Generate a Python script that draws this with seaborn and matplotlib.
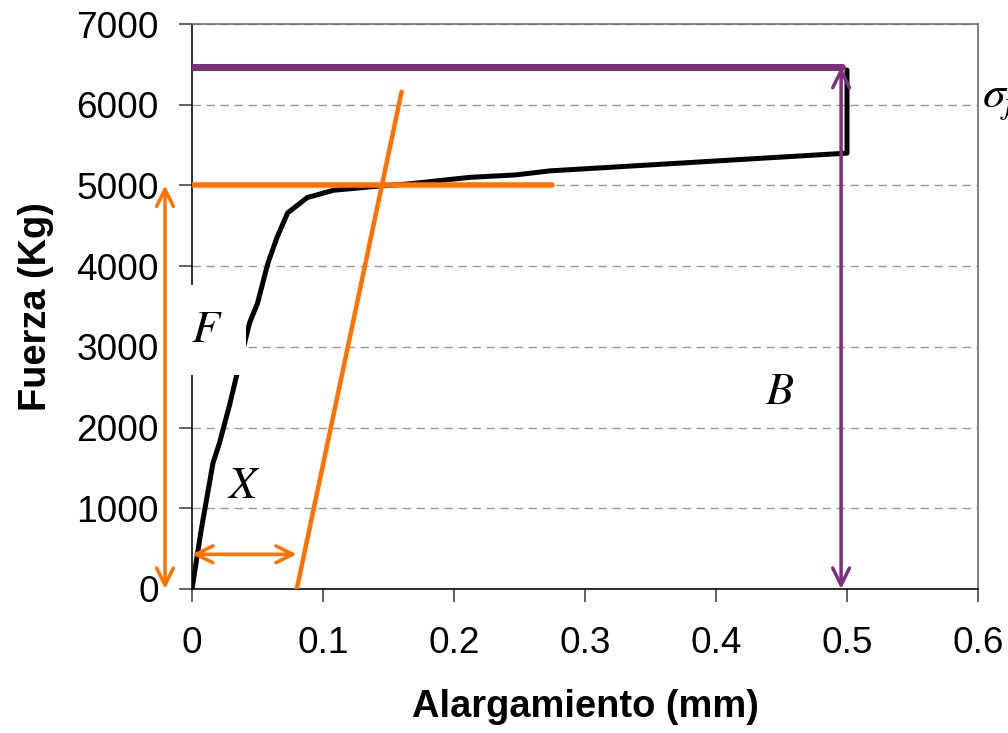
import matplotlib
matplotlib.use('Agg')
import matplotlib.pyplot as plt
import seaborn as sns

# Curva fuerza - alargamiento (ensayo de traccion)
alargamiento = [0.000, 0.007, 0.016, 0.021, 0.029, 0.035, 0.044, 0.050, 0.058,
                0.065, 0.073, 0.088, 0.108, 0.141, 0.166, 0.212, 0.247, 0.273,
                0.500, 0.500]
fuerza = [0, 730, 1560, 1810, 2300, 2710, 3300, 3540, 4040,
          4360, 4660, 4850, 4940, 4990, 5020, 5100, 5130, 5180,
          5400, 6430]

# Recta paralela a la zona elastica (offset)
offset_x = [0.080, 0.160]
offset_y = [0, 6160]

# Limite de fluencia
fluencia = 5000
fluencia_x = [0, 0.275]

# Carga maxima
carga_max = 6470
carga_max_x = [0, 0.496]

# Cotas
x_cota_f = -0.0206
y_cota_x = 430
x_cota_b = 0.4955

x_ticks = [0, 0.1, 0.2, 0.3, 0.4, 0.5, 0.6]
x_ticklabels = ['0', '0.1', '0.2', '0.3', '0.4', '0.5', '0.6']
y_ticks = [0, 1000, 2000, 3000, 4000, 5000, 6000, 7000]

naranja = '#ff7200'
morado = '#7b2f7d'

sns.set_style('ticks')
plt.rcParams['font.family'] = ['Liberation Sans', 'DejaVu Sans']
plt.rcParams['mathtext.fontset'] = 'stix'
plt.rcParams['text.color'] = 'black'
plt.rcParams['axes.labelcolor'] = 'black'

fig = plt.figure(figsize=(1008 / 72, 733 / 72), dpi=72)
ax = fig.add_axes([192 / 1008, 1 - 589 / 733, (978 - 192) / 1008, (589 - 24) / 733])

sns.lineplot(x=alargamiento, y=fuerza, sort=False, estimator=None,
             color='black', lw=5, ax=ax, zorder=3)
sns.lineplot(x=offset_x, y=offset_y, sort=False, estimator=None,
             color=naranja, lw=4.5, ax=ax, zorder=4)
sns.lineplot(x=fluencia_x, y=[fluencia, fluencia], sort=False, estimator=None,
             color=naranja, lw=5.5, ax=ax, zorder=4)
sns.lineplot(x=carga_max_x, y=[carga_max, carga_max], sort=False, estimator=None,
             color=morado, lw=7, ax=ax, zorder=4)

flecha = '<->,head_length=0.85,head_width=0.42'
ax.annotate('', xy=(x_cota_f, 0), xytext=(x_cota_f, fluencia),
            arrowprops=dict(arrowstyle=flecha, color=naranja, lw=3.5,
                            shrinkA=0, shrinkB=0, mutation_scale=20),
            annotation_clip=False, zorder=6)
ax.annotate('', xy=(0, y_cota_x), xytext=(offset_x[0], y_cota_x),
            arrowprops=dict(arrowstyle=flecha, color=naranja, lw=3.5,
                            shrinkA=0, shrinkB=0, mutation_scale=20),
            zorder=6)
ax.annotate('', xy=(x_cota_b, 0), xytext=(x_cota_b, carga_max),
            arrowprops=dict(arrowstyle=flecha, color=morado, lw=3.5,
                            shrinkA=0, shrinkB=0, mutation_scale=20),
            zorder=6)

ax.text(0.0115, 3209, '$F$', fontsize=46, ha='center', va='center', zorder=5,
        clip_on=False, color='black',
        bbox=dict(boxstyle='square,pad=0.5', fc='white', ec='none'))
ax.text(0.0397, 1276, '$X$', fontsize=46, ha='center', va='center',
        color='black', zorder=5)
ax.text(0.4489, 2441, '$B$', fontsize=46, ha='center', va='center',
        color='black', zorder=5)
ax.text(0.603, 5960, r'$\sigma_f$', fontsize=46, ha='left', va='baseline',
        clip_on=False, color='black', zorder=5)

ax.set_xlim(0, 0.6)
ax.set_ylim(0, 7000)
ax.set_xticks(x_ticks)
ax.set_xticklabels(x_ticklabels)
ax.set_yticks(y_ticks)
ax.tick_params(axis='both', direction='out', length=13, width=1.5,
               color='#333333', labelsize=37, labelcolor='black')
ax.tick_params(axis='x', pad=24)
ax.tick_params(axis='y', pad=20)

ax.yaxis.grid(True, linestyle=(0, (6, 4)), color='#999999', lw=1.4)
ax.set_axisbelow(True)
for lado in ['left', 'bottom']:
    ax.spines[lado].set_color('black')
    ax.spines[lado].set_linewidth(1.6)
for lado in ['top', 'right']:
    ax.spines[lado].set_color('#666666')
    ax.spines[lado].set_linewidth(1.6)
    ax.spines[lado].set_visible(True)

ax.set_xlabel('Alargamiento (mm)', fontsize=38, fontweight='bold',
              color='black', labelpad=28)
ax.set_ylabel('Fuerza (Kg)', fontsize=38, fontweight='bold',
              color='black', labelpad=22)

fig.savefig('out.png', dpi=72)
